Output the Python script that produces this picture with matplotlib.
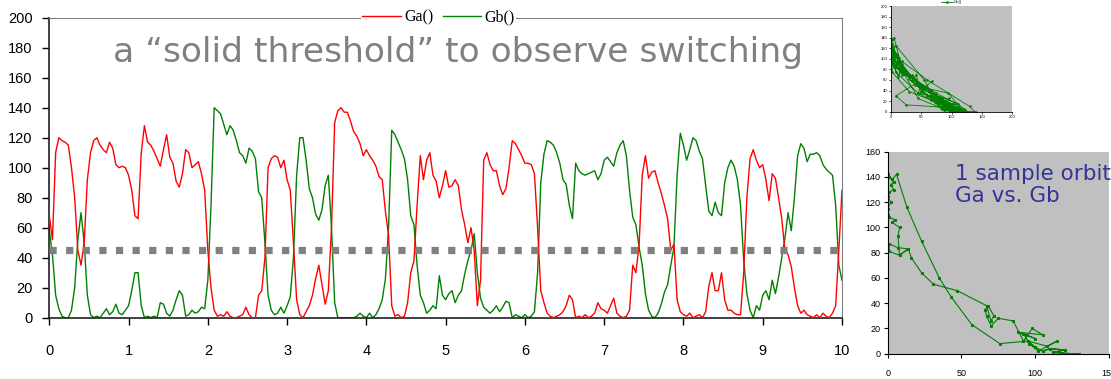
import numpy as np
import matplotlib
matplotlib.use("Agg")
import matplotlib.pyplot as plt

# ---------------- data ----------------
t = np.round(np.arange(0, 10.0001, 0.04), 2)

ga = [68, 52, 110, 120, 118, 117, 115, 100, 80, 45, 35, 50, 92, 110, 118, 120, 115, 112, 110, 117, 113, 102, 100, 101, 100,
      95, 85, 68, 66, 110, 128, 117, 115, 111, 106, 101, 112, 122, 107, 103, 91, 87, 96, 112, 110, 100, 102, 104, 96, 85,
      45, 20, 5, 1, 2, 1, 4, 1, 0, 0, 1, 2, 7, 2, 0, 0, 15, 18, 40, 100, 106, 108, 107, 100, 105,
      92, 85, 50, 12, 2, 0, 4, 8, 15, 26, 35, 22, 9, 18, 60, 130, 138, 140, 137, 137, 131, 124, 121, 116, 108,
      112, 108, 105, 101, 94, 92, 71, 55, 8, 1, 2, 0, 1, 10, 30, 38, 75, 108, 92, 105, 110, 95, 91, 80, 88,
      98, 87, 88, 92, 88, 72, 62, 50, 60, 45, 8, 25, 105, 110, 102, 98, 98, 88, 82, 86, 100, 118, 116, 112, 108,
      103, 103, 102, 96, 60, 18, 10, 3, 1, 0, 1, 2, 4, 8, 15, 12, 0, 1, 0, 2, 0, 1, 3, 10, 6,
      5, 3, 8, 13, 3, 1, 0, 1, 5, 35, 30, 48, 95, 108, 93, 97, 98, 90, 83, 75, 66, 45, 49, 12, 4,
      2, 1, 3, 0, 1, 2, 0, 4, 21, 30, 18, 18, 30, 12, 5, 5, 3, 2, 2, 30, 80, 106, 112, 105, 100,
      102, 92, 78, 96, 93, 80, 66, 45, 42, 34, 20, 8, 3, 5, 2, 1, 0, 2, 0, 3, 1, 0, 3, 8, 45,
      85]

gb = [58, 42, 15, 6, 1, 0, 0, 5, 20, 52, 70, 50, 15, 2, 0, 1, 0, 3, 6, 2, 4, 9, 3, 2, 5,
      8, 18, 30, 30, 8, 0, 1, 0, 1, 0, 10, 9, 3, 1, 5, 12, 18, 15, 1, 2, 5, 3, 4, 7, 6,
      25, 75, 140, 138, 136, 129, 122, 128, 125, 118, 110, 108, 103, 113, 111, 106, 84, 80, 50, 15, 5, 2, 3, 7, 3,
      8, 14, 40, 95, 120, 120, 105, 86, 80, 69, 65, 72, 88, 95, 60, 10, 0, 0, 0, 0, 0, 0, 1, 3, 1,
      0, 3, 0, 2, 6, 12, 26, 60, 125, 122, 117, 112, 106, 92, 68, 62, 35, 15, 10, 3, 5, 8, 6, 28, 15,
      12, 16, 18, 10, 15, 18, 29, 38, 45, 56, 30, 13, 7, 5, 3, 5, 8, 4, 7, 11, 10, 0, 2, 1, 0,
      2, 0, 1, 4, 30, 90, 109, 118, 117, 115, 110, 103, 92, 89, 75, 66, 103, 98, 96, 95, 96, 97, 98, 92, 96,
      105, 107, 104, 101, 110, 115, 118, 108, 85, 67, 62, 47, 35, 16, 5, 1, 0, 3, 9, 17, 22, 35, 47, 95, 123,
      115, 105, 112, 120, 118, 111, 106, 88, 71, 68, 77, 70, 68, 90, 100, 105, 101, 92, 75, 38, 16, 5, 0, 8, 5,
      15, 18, 12, 25, 16, 27, 40, 53, 70, 58, 80, 108, 116, 113, 104, 109, 109, 110, 108, 102, 99, 97, 95, 75, 35,
      25]

threshold = 45
x_ticks = list(range(0, 11))
y_ticks = list(range(0, 201, 20))
series_labels = ["Ga()", "Gb()"]
title_text = "a \u201csolid threshold\u201d to observe switching"

# one sample orbit (Ga, Gb)
orbit_points = [(130, 0), (125, 0), (112, 1), (120, 3), (110, 4), (105, 2), (100, 5), (95, 10), (108, 6),
                (115, 10), (102, 2), (96, 8), (92, 16), (100, 12), (88, 17), (105, 15), (98, 20), (92, 10),
                (85, 26), (75, 28), (70, 22), (67, 30), (66, 35), (68, 38), (72, 30), (70, 26), (67, 38),
                (47, 50), (31, 55), (23, 64), (16, 76), (14, 83), (8, 78), (1, 81), (1, 87), (7, 84),
                (14, 83), (8, 78), (7, 93), (8, 100), (3, 104), (5, 106), (1, 108), (0, 110), (0, 115),
                (2, 120), (0, 125), (1, 128), (4, 130), (2, 134), (4, 136), (1, 140), (0, 142), (3, 138),
                (6, 142), (13, 116), (23, 89), (35, 60), (43, 45), (57, 23), (76, 8), (95, 10), (100, 5),
                (105, 2), (110, 4), (120, 3), (112, 1), (125, 0), (130, 0)]
orbit_text = "1 sample orbit\nGa vs. Gb"
top_inset_ticks = list(range(0, 201, 20))
top_inset_xticks = [0, 50, 100, 150, 200]
orbit_xticks = [0, 50, 100, 150]
orbit_yticks = list(range(0, 161, 20))

assert len(ga) == len(t) and len(gb) == len(t)

# ---------------- figure ----------------
W, H = 1111, 379
fig = plt.figure(figsize=(W / 100, H / 100), dpi=100)
plt.rcParams['font.family'] = ['Liberation Sans', 'DejaVu Sans']


def box(l, r, top, bot):
    return [l / W, 1 - bot / H, (r - l) / W, (bot - top) / H]


# main axes
ax = fig.add_axes(box(49.3, 842, 17.7, 317.7))
la, = ax.plot(t, ga, color='#ff0000', lw=1.0, label=series_labels[0], zorder=3)
lb, = ax.plot(t, gb, color='#008000', lw=1.0, label=series_labels[1], zorder=2)
ax.plot([t[0], t[-1]], [threshold, threshold], color='#808080', lw=5.2,
        dashes=(1.0, 1.3), dash_capstyle='butt', zorder=4)
ax.set_xlim(0, 10)
ax.set_ylim(0, 200)
ax.set_xticks(x_ticks)
ax.set_yticks(y_ticks)
ax.tick_params(axis='y', length=5, width=1, pad=7, labelsize=10.5, direction='out')
ax.tick_params(axis='x', length=5, width=1, pad=14, labelsize=10.5, direction='out')
for s in ['top', 'right']:
    ax.spines[s].set_color('#808080')
for s in ['left', 'bottom']:
    ax.spines[s].set_color('#202020')
    ax.spines[s].set_linewidth(1.2)
ax.text(5.15, 177, title_text, ha='center', va='center', fontsize=24.8,
        color='#808080', family='DejaVu Sans')
leg = ax.legend(handles=[la, lb], loc='center', bbox_to_anchor=(0.491, 1.0), ncol=2,
                frameon=True, framealpha=1, edgecolor='none', facecolor='white',
                prop={'family': 'Liberation Serif', 'size': 11.5},
                handlelength=2.4, handletextpad=0.2, columnspacing=0.6,
                borderpad=0.1, borderaxespad=0)
leg.get_frame().set_linewidth(0)

# top inset
ax2 = fig.add_axes(box(891, 1012, 6, 111.7))
ax2.set_facecolor('#c0c0c0')
p2, = ax2.plot(ga, gb, color='#008000', lw=0.6, marker='s', ms=0.8, label=series_labels[1])
ax2.set_xlim(0, 200)
ax2.set_ylim(0, 200)
ax2.set_xticks(top_inset_xticks)
ax2.set_yticks(top_inset_ticks)
ax2.tick_params(labelsize=3, length=1.5, width=0.5, pad=1)
for s in ['top', 'right']:
    ax2.spines[s].set_visible(False)
for s in ['left', 'bottom']:
    ax2.spines[s].set_linewidth(0.6)
ax2.legend(handles=[p2], loc='center', bbox_to_anchor=(0.5, 1.035), frameon=False,
           prop={'size': 3}, handlelength=3, handletextpad=0.3, borderpad=0)

# bottom inset
ax3 = fig.add_axes(box(887.7, 1109, 151.7, 353.7))
ax3.set_facecolor('#c0c0c0')
ox = [p[0] for p in orbit_points]
oy = [p[1] for p in orbit_points]
ax3.plot(ox, oy, color='#008000', lw=0.8, marker='s', ms=1.2)
ax3.set_xlim(0, 150)
ax3.set_ylim(0, 160)
ax3.set_xticks(orbit_xticks)
ax3.set_yticks(orbit_yticks)
ax3.tick_params(labelsize=6.5, length=3, width=0.8, pad=2)
ax3.tick_params(axis='x', pad=8)
for s in ['top', 'right']:
    ax3.spines[s].set_visible(False)
ax3.text(45.5, 150, orbit_text, ha='left', va='top', fontsize=15.5, color='#333399',
         family='DejaVu Sans', linespacing=1.08, clip_on=False)

fig.savefig('out.png', dpi=100)
